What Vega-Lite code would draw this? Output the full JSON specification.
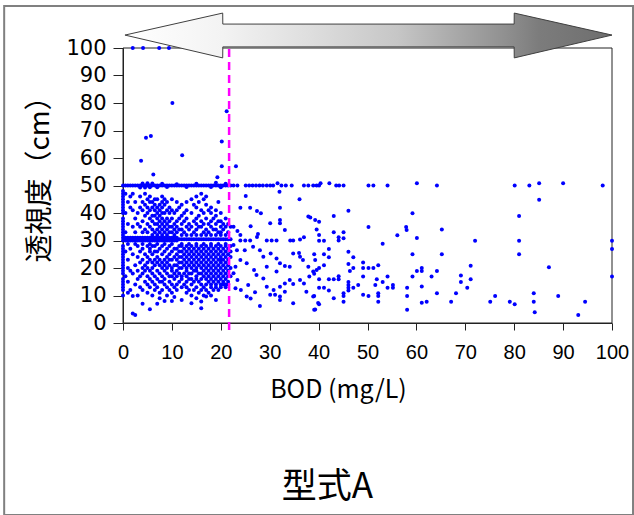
{
"$schema": "https://vega.github.io/schema/vega-lite/v6.json",
"width": 489, "height": 275,
"autosize": {"type": "none"},
"padding": {"left": 123, "top": 48, "right": 22, "bottom": 192},
"background": "white",
"title": {"text": "型式A", "orient": "bottom", "anchor": "middle", "frame": "group", "font": "Noto Sans CJK JP", "fontSize": 35, "fontWeight": "normal", "color": "#000", "baseline": "alphabetic", "offset": -18, "dx": -40},
"config": {
"view": {"stroke": null},
"axisX": {"grid": false, "domainColor": "#222222", "tickColor": "#222222", "tickSize": 7, "labelFont": "'Liberation Sans Narrow', 'Liberation Sans'", "labelFontSize": 20, "labelColor": "#000000", "labelPadding": 12, "labelFlush": false, "labelOverlap": false, "titleFont": "Noto Sans CJK JP", "titleFontSize": 25, "titleFontWeight": "normal", "titleColor": "#000000"},
"axisY": {"grid": false, "domainColor": "#222222", "tickColor": "#222222", "tickSize": 10, "labelFont": "DejaVu Sans", "labelFontSize": 21, "labelColor": "#000000", "labelPadding": 7, "labelFlush": false, "labelOverlap": false, "titleFont": "Noto Sans CJK JP", "titleFontSize": 28, "titleFontWeight": "normal", "titleColor": "#000000"}
},
"datasets": {
"arrow": [
{"pos":0.4,"upper":104.7,"lower":104.7},
{"pos":20.39,"upper":112.7,"lower":96.4},
{"pos":20.41,"upper":108.7,"lower":100.4},
{"pos":79.99,"upper":108.7,"lower":100.4},
{"pos":80.01,"upper":112.7,"lower":96.4},
{"pos":100,"upper":104.7,"lower":104.7}
],
"obs": [
{"bod":2,"clarity":100},{"bod":4.1,"clarity":100},{"bod":7.4,"clarity":100},{"bod":9.4,"clarity":100},{"bod":10.1,"clarity":80},{"bod":21.2,"clarity":77},{"bod":4.7,"clarity":67.4},{"bod":5.7,"clarity":68},{"bod":12.1,"clarity":61},{"bod":3.7,"clarity":59},{"bod":20.2,"clarity":66},{"bod":20.2,"clarity":57},{"bod":23.1,"clarity":57},{"bod":19.3,"clarity":53},{"bod":6.2,"clarity":54},
{"bod":0,"clarity":50},{"bod":0.5,"clarity":50},{"bod":1,"clarity":50},{"bod":1.5,"clarity":50},{"bod":2,"clarity":50},{"bod":2.5,"clarity":50},{"bod":3,"clarity":50},{"bod":3.5,"clarity":50},{"bod":4,"clarity":50},{"bod":4.5,"clarity":50},{"bod":5,"clarity":50},{"bod":5.5,"clarity":50},{"bod":6,"clarity":50},{"bod":6.5,"clarity":50},{"bod":7,"clarity":50},{"bod":7.5,"clarity":50},{"bod":8,"clarity":50},{"bod":8.5,"clarity":50},{"bod":9,"clarity":50},{"bod":9.5,"clarity":50},{"bod":10,"clarity":50},{"bod":10.5,"clarity":50},{"bod":11,"clarity":50},{"bod":11.5,"clarity":50},{"bod":12,"clarity":50},{"bod":12.5,"clarity":50},{"bod":13,"clarity":50},{"bod":13.5,"clarity":50},{"bod":14,"clarity":50},{"bod":14.5,"clarity":50},{"bod":15,"clarity":50},{"bod":15.5,"clarity":50},{"bod":16,"clarity":50},{"bod":16.5,"clarity":50},{"bod":17,"clarity":50},{"bod":17.5,"clarity":50},{"bod":18,"clarity":50},{"bod":18.5,"clarity":50},{"bod":19,"clarity":50},{"bod":19.5,"clarity":50},{"bod":20,"clarity":50},{"bod":20.5,"clarity":50},{"bod":21,"clarity":50},{"bod":21.5,"clarity":50},{"bod":22,"clarity":50},
{"bod":3.5,"clarity":49.3},{"bod":4,"clarity":50.7},{"bod":4.5,"clarity":49.3},{"bod":5,"clarity":50.8},{"bod":5.5,"clarity":49.4},{"bod":6,"clarity":50.7},{"bod":7,"clarity":49.4},{"bod":8,"clarity":50.6},{"bod":9,"clarity":49.5},{"bod":11,"clarity":50.5},{"bod":13,"clarity":49.5},{"bod":15,"clarity":50.6},{"bod":18,"clarity":49.5},{"bod":19,"clarity":51},{"bod":20,"clarity":49.4},{"bod":21,"clarity":50.6},
{"bod":22.6,"clarity":50},{"bod":23.4,"clarity":50},{"bod":25.1,"clarity":50},{"bod":25.8,"clarity":50},{"bod":26.5,"clarity":50},{"bod":27.2,"clarity":50},{"bod":27.9,"clarity":50},{"bod":28.6,"clarity":50},{"bod":29.4,"clarity":50},{"bod":30.1,"clarity":50},{"bod":30.7,"clarity":50},{"bod":31.6,"clarity":50.8},{"bod":32.4,"clarity":50},{"bod":33.3,"clarity":50},{"bod":34.5,"clarity":50},{"bod":37,"clarity":50},{"bod":37.9,"clarity":50},{"bod":38.9,"clarity":50},{"bod":39.6,"clarity":50},
{"bod":0,"clarity":30},{"bod":0,"clarity":31},{"bod":0.5,"clarity":30},{"bod":0.5,"clarity":31},{"bod":1,"clarity":30},{"bod":1,"clarity":31},{"bod":1.5,"clarity":30},{"bod":1.5,"clarity":31},{"bod":2,"clarity":30},{"bod":2,"clarity":31},{"bod":2.5,"clarity":30},{"bod":2.5,"clarity":31},{"bod":3,"clarity":30},{"bod":3,"clarity":31},{"bod":3.5,"clarity":30},{"bod":3.5,"clarity":31},{"bod":4,"clarity":30},{"bod":4,"clarity":31},{"bod":4.5,"clarity":30},{"bod":4.5,"clarity":31},{"bod":5,"clarity":30},{"bod":5,"clarity":31},{"bod":5.5,"clarity":30},{"bod":5.5,"clarity":31},{"bod":6,"clarity":30},{"bod":6,"clarity":31},{"bod":6.5,"clarity":30},{"bod":6.5,"clarity":31},{"bod":7,"clarity":30},{"bod":7,"clarity":31},{"bod":7.5,"clarity":30},{"bod":7.5,"clarity":31},{"bod":8,"clarity":30},{"bod":8,"clarity":31},{"bod":8.5,"clarity":30},{"bod":8.5,"clarity":31},{"bod":9,"clarity":30},{"bod":9,"clarity":31},{"bod":9.5,"clarity":30},{"bod":9.5,"clarity":31},{"bod":10,"clarity":30},{"bod":10,"clarity":31},{"bod":10.5,"clarity":30},{"bod":10.5,"clarity":31},{"bod":11,"clarity":30},{"bod":11,"clarity":31},
{"bod":11.5,"clarity":30.5},{"bod":12,"clarity":30.5},{"bod":12.5,"clarity":30.5},{"bod":13,"clarity":30.5},{"bod":13.5,"clarity":30.5},{"bod":14,"clarity":30.5},{"bod":14.5,"clarity":30.5},{"bod":15,"clarity":30.5},{"bod":15.5,"clarity":30.5},{"bod":16,"clarity":30.5},{"bod":16.5,"clarity":30.5},{"bod":17,"clarity":30.5},{"bod":17.5,"clarity":30.5},{"bod":18,"clarity":30.5},{"bod":18.5,"clarity":30.5},{"bod":19,"clarity":30.5},{"bod":19.5,"clarity":30.5},{"bod":20,"clarity":30.5},{"bod":20.5,"clarity":30.5},{"bod":21,"clarity":30.5},{"bod":21.5,"clarity":30.5},{"bod":22,"clarity":30.5},
{"bod":1,"clarity":28.7},{"bod":2.5,"clarity":28.7},{"bod":4,"clarity":28.7},{"bod":5.5,"clarity":28.7},{"bod":7,"clarity":28.7},{"bod":8.5,"clarity":28.7},{"bod":10,"clarity":28.7},{"bod":12,"clarity":28.7},{"bod":13.5,"clarity":28.7},{"bod":15,"clarity":28.7},{"bod":16.5,"clarity":28.7},{"bod":18,"clarity":28.7},{"bod":19.5,"clarity":28.7},{"bod":21,"clarity":28.7},
{"bod":24,"clarity":30},{"bod":25,"clarity":30},{"bod":26,"clarity":30},{"bod":29.4,"clarity":30},{"bod":30.4,"clarity":30},{"bod":31.4,"clarity":30},{"bod":34.2,"clarity":30},{"bod":34.8,"clarity":30},{"bod":36.2,"clarity":30.4},{"bod":37,"clarity":31.2},
{"bod":0,"clarity":10},{"bod":0,"clarity":12},{"bod":0,"clarity":13},{"bod":0,"clarity":14},{"bod":0,"clarity":15},{"bod":0,"clarity":16},{"bod":0,"clarity":18},{"bod":0,"clarity":19},{"bod":0,"clarity":20},{"bod":0,"clarity":21},{"bod":0,"clarity":22},{"bod":0,"clarity":23},{"bod":0,"clarity":24},{"bod":0,"clarity":25},{"bod":0,"clarity":26},{"bod":0,"clarity":27},{"bod":0,"clarity":28},{"bod":0,"clarity":32},{"bod":0,"clarity":33},{"bod":0,"clarity":34},{"bod":0,"clarity":35},{"bod":0,"clarity":36},{"bod":0,"clarity":37},{"bod":0,"clarity":38},{"bod":0,"clarity":40},{"bod":0,"clarity":41},{"bod":0,"clarity":42},{"bod":0,"clarity":43},{"bod":0,"clarity":44},{"bod":0,"clarity":45},{"bod":0,"clarity":46},{"bod":0,"clarity":47},{"bod":0,"clarity":48},
{"bod":0.5,"clarity":17},{"bod":0.5,"clarity":26},{"bod":0.5,"clarity":33},{"bod":0.5,"clarity":40},{"bod":0.5,"clarity":47},
{"bod":1,"clarity":11},{"bod":1,"clarity":15},{"bod":1,"clarity":20},{"bod":1,"clarity":23},{"bod":1,"clarity":36},{"bod":1,"clarity":44},
{"bod":1.5,"clarity":12},{"bod":1.5,"clarity":19},{"bod":1.5,"clarity":27},{"bod":1.5,"clarity":42},{"bod":1.5,"clarity":46},
{"bod":2,"clarity":3.5},{"bod":2,"clarity":9.8},{"bod":2,"clarity":18},{"bod":2,"clarity":25},{"bod":2,"clarity":35},{"bod":2,"clarity":41},{"bod":2,"clarity":47},
{"bod":2.5,"clarity":2.9},{"bod":2.5,"clarity":14},{"bod":2.5,"clarity":21},{"bod":2.5,"clarity":33},{"bod":2.5,"clarity":38},{"bod":2.5,"clarity":44},
{"bod":3,"clarity":10},{"bod":3,"clarity":16},{"bod":3,"clarity":19},{"bod":3,"clarity":24},{"bod":3,"clarity":28},{"bod":3,"clarity":36},{"bod":3,"clarity":40},
{"bod":3.5,"clarity":13},{"bod":3.5,"clarity":17},{"bod":3.5,"clarity":22},{"bod":3.5,"clarity":26},{"bod":3.5,"clarity":35},{"bod":3.5,"clarity":42},{"bod":3.5,"clarity":46},
{"bod":4,"clarity":7},{"bod":4,"clarity":12},{"bod":4,"clarity":18},{"bod":4,"clarity":20},{"bod":4,"clarity":23},{"bod":4,"clarity":27},{"bod":4,"clarity":33},{"bod":4,"clarity":37},{"bod":4,"clarity":41},{"bod":4,"clarity":44},
{"bod":4.5,"clarity":15},{"bod":4.5,"clarity":19},{"bod":4.5,"clarity":21},{"bod":4.5,"clarity":25},{"bod":4.5,"clarity":34},{"bod":4.5,"clarity":39},{"bod":4.5,"clarity":43},{"bod":4.5,"clarity":47},
{"bod":5,"clarity":11},{"bod":5,"clarity":14},{"bod":5,"clarity":17},{"bod":5,"clarity":20},{"bod":5,"clarity":22},{"bod":5,"clarity":24},{"bod":5,"clarity":28},{"bod":5,"clarity":33},{"bod":5,"clarity":36},{"bod":5,"clarity":40},{"bod":5,"clarity":42},{"bod":5,"clarity":45},
{"bod":5.5,"clarity":5},{"bod":5.5,"clarity":13},{"bod":5.5,"clarity":16},{"bod":5.5,"clarity":19},{"bod":5.5,"clarity":23},{"bod":5.5,"clarity":26},{"bod":5.5,"clarity":27},{"bod":5.5,"clarity":35},{"bod":5.5,"clarity":38},{"bod":5.5,"clarity":41},{"bod":5.5,"clarity":44},{"bod":5.5,"clarity":46},
{"bod":6,"clarity":10},{"bod":6,"clarity":15},{"bod":6,"clarity":18},{"bod":6,"clarity":20},{"bod":6,"clarity":22},{"bod":6,"clarity":25},{"bod":6,"clarity":28},{"bod":6,"clarity":32},{"bod":6,"clarity":34},{"bod":6,"clarity":37},{"bod":6,"clarity":39},{"bod":6,"clarity":42},{"bod":6,"clarity":44},
{"bod":6.5,"clarity":12},{"bod":6.5,"clarity":14},{"bod":6.5,"clarity":17},{"bod":6.5,"clarity":21},{"bod":6.5,"clarity":23},{"bod":6.5,"clarity":26},{"bod":6.5,"clarity":28},{"bod":6.5,"clarity":33},{"bod":6.5,"clarity":36},{"bod":6.5,"clarity":39},{"bod":6.5,"clarity":41},{"bod":6.5,"clarity":43},{"bod":6.5,"clarity":45},
{"bod":7,"clarity":7},{"bod":7,"clarity":13},{"bod":7,"clarity":16},{"bod":7,"clarity":19},{"bod":7,"clarity":22},{"bod":7,"clarity":24},{"bod":7,"clarity":26},{"bod":7,"clarity":32},{"bod":7,"clarity":34},{"bod":7,"clarity":36},{"bod":7,"clarity":38},{"bod":7,"clarity":40},{"bod":7,"clarity":42},{"bod":7,"clarity":45},
{"bod":7.5,"clarity":9},{"bod":7.5,"clarity":11},{"bod":7.5,"clarity":15},{"bod":7.5,"clarity":18},{"bod":7.5,"clarity":21},{"bod":7.5,"clarity":23},{"bod":7.5,"clarity":27},{"bod":7.5,"clarity":33},{"bod":7.5,"clarity":35},{"bod":7.5,"clarity":37},{"bod":7.5,"clarity":39},{"bod":7.5,"clarity":41},{"bod":7.5,"clarity":43},
{"bod":8,"clarity":12},{"bod":8,"clarity":15},{"bod":8,"clarity":17},{"bod":8,"clarity":20},{"bod":8,"clarity":22},{"bod":8,"clarity":25},{"bod":8,"clarity":28},{"bod":8,"clarity":32},{"bod":8,"clarity":34},{"bod":8,"clarity":36},{"bod":8,"clarity":38},{"bod":8,"clarity":40},{"bod":8,"clarity":42},{"bod":8,"clarity":44},{"bod":8,"clarity":46},
{"bod":8.5,"clarity":8},{"bod":8.5,"clarity":14},{"bod":8.5,"clarity":16},{"bod":8.5,"clarity":19},{"bod":8.5,"clarity":21},{"bod":8.5,"clarity":23},{"bod":8.5,"clarity":26},{"bod":8.5,"clarity":33},{"bod":8.5,"clarity":35},{"bod":8.5,"clarity":37},{"bod":8.5,"clarity":40},{"bod":8.5,"clarity":43},{"bod":8.5,"clarity":45},
{"bod":9,"clarity":10},{"bod":9,"clarity":13},{"bod":9,"clarity":18},{"bod":9,"clarity":20},{"bod":9,"clarity":22},{"bod":9,"clarity":24},{"bod":9,"clarity":27},{"bod":9,"clarity":32},{"bod":9,"clarity":34},{"bod":9,"clarity":36},{"bod":9,"clarity":38},{"bod":9,"clarity":41},{"bod":9,"clarity":44},
{"bod":9.5,"clarity":12},{"bod":9.5,"clarity":15},{"bod":9.5,"clarity":17},{"bod":9.5,"clarity":21},{"bod":9.5,"clarity":23},{"bod":9.5,"clarity":25},{"bod":9.5,"clarity":28},{"bod":9.5,"clarity":33},{"bod":9.5,"clarity":35},{"bod":9.5,"clarity":37},{"bod":9.5,"clarity":40},{"bod":9.5,"clarity":42},
{"bod":10,"clarity":8},{"bod":10,"clarity":11},{"bod":10,"clarity":14},{"bod":10,"clarity":17},{"bod":10,"clarity":19},{"bod":10,"clarity":20},{"bod":10,"clarity":23},{"bod":10,"clarity":26},{"bod":10,"clarity":33},{"bod":10,"clarity":35},{"bod":10,"clarity":38},{"bod":10,"clarity":41},{"bod":10,"clarity":45},
{"bod":10.5,"clarity":9.5},{"bod":10.5,"clarity":13},{"bod":10.5,"clarity":16},{"bod":10.5,"clarity":18},{"bod":10.5,"clarity":21},{"bod":10.5,"clarity":24},{"bod":10.5,"clarity":27},{"bod":10.5,"clarity":32},{"bod":10.5,"clarity":34},{"bod":10.5,"clarity":36},{"bod":10.5,"clarity":40},
{"bod":11,"clarity":12},{"bod":11,"clarity":14},{"bod":11,"clarity":17},{"bod":11,"clarity":19},{"bod":11,"clarity":21},{"bod":11,"clarity":23},{"bod":11,"clarity":25},{"bod":11,"clarity":27},{"bod":11,"clarity":33},{"bod":11,"clarity":35},{"bod":11,"clarity":37},{"bod":11,"clarity":41},{"bod":11,"clarity":44},
{"bod":11.5,"clarity":15},{"bod":11.5,"clarity":18},{"bod":11.5,"clarity":20},{"bod":11.5,"clarity":22},{"bod":11.5,"clarity":24},{"bod":11.5,"clarity":26},{"bod":11.5,"clarity":28},{"bod":11.5,"clarity":34},{"bod":11.5,"clarity":38},{"bod":11.5,"clarity":42},
{"bod":12,"clarity":8.4},{"bod":12,"clarity":13},{"bod":12,"clarity":16},{"bod":12,"clarity":17},{"bod":12,"clarity":20},{"bod":12,"clarity":22},{"bod":12,"clarity":24},{"bod":12,"clarity":26},{"bod":12,"clarity":28},{"bod":12,"clarity":32},{"bod":12,"clarity":34},{"bod":12,"clarity":36},{"bod":12,"clarity":39},{"bod":12,"clarity":43},
{"bod":12.5,"clarity":14},{"bod":12.5,"clarity":18},{"bod":12.5,"clarity":21},{"bod":12.5,"clarity":23},{"bod":12.5,"clarity":25},{"bod":12.5,"clarity":27},{"bod":12.5,"clarity":33},{"bod":12.5,"clarity":37},{"bod":12.5,"clarity":40},
{"bod":13,"clarity":11},{"bod":13,"clarity":13},{"bod":13,"clarity":15},{"bod":13,"clarity":17},{"bod":13,"clarity":19},{"bod":13,"clarity":20},{"bod":13,"clarity":22},{"bod":13,"clarity":24},{"bod":13,"clarity":26},{"bod":13,"clarity":28},{"bod":13,"clarity":32},{"bod":13,"clarity":35},{"bod":13,"clarity":38},{"bod":13,"clarity":41},{"bod":13,"clarity":44},
{"bod":13.5,"clarity":12},{"bod":13.5,"clarity":16},{"bod":13.5,"clarity":18},{"bod":13.5,"clarity":21},{"bod":13.5,"clarity":23},{"bod":13.5,"clarity":25},{"bod":13.5,"clarity":27},{"bod":13.5,"clarity":34},{"bod":13.5,"clarity":36},
{"bod":14,"clarity":7.2},{"bod":14,"clarity":10},{"bod":14,"clarity":14},{"bod":14,"clarity":16},{"bod":14,"clarity":18},{"bod":14,"clarity":20},{"bod":14,"clarity":22},{"bod":14,"clarity":24},{"bod":14,"clarity":26},{"bod":14,"clarity":28},{"bod":14,"clarity":32},{"bod":14,"clarity":35},{"bod":14,"clarity":40},{"bod":14,"clarity":45},
{"bod":14.5,"clarity":12},{"bod":14.5,"clarity":15},{"bod":14.5,"clarity":19},{"bod":14.5,"clarity":21},{"bod":14.5,"clarity":23},{"bod":14.5,"clarity":25},{"bod":14.5,"clarity":27},{"bod":14.5,"clarity":33},{"bod":14.5,"clarity":37},{"bod":14.5,"clarity":43},
{"bod":15,"clarity":9},{"bod":15,"clarity":13},{"bod":15,"clarity":16},{"bod":15,"clarity":17},{"bod":15,"clarity":19},{"bod":15,"clarity":20},{"bod":15,"clarity":22},{"bod":15,"clarity":24},{"bod":15,"clarity":26},{"bod":15,"clarity":28},{"bod":15,"clarity":32},{"bod":15,"clarity":34},{"bod":15,"clarity":36},{"bod":15,"clarity":38},{"bod":15,"clarity":42},{"bod":15,"clarity":46},
{"bod":15.5,"clarity":11},{"bod":15.5,"clarity":15},{"bod":15.5,"clarity":18},{"bod":15.5,"clarity":21},{"bod":15.5,"clarity":23},{"bod":15.5,"clarity":25},{"bod":15.5,"clarity":27},{"bod":15.5,"clarity":35},{"bod":15.5,"clarity":39},{"bod":15.5,"clarity":44},
{"bod":16,"clarity":5.4},{"bod":16,"clarity":7.8},{"bod":16,"clarity":12},{"bod":16,"clarity":14},{"bod":16,"clarity":16},{"bod":16,"clarity":18},{"bod":16,"clarity":20},{"bod":16,"clarity":22},{"bod":16,"clarity":24},{"bod":16,"clarity":26},{"bod":16,"clarity":28},{"bod":16,"clarity":32},{"bod":16,"clarity":35},{"bod":16,"clarity":37},{"bod":16,"clarity":41},{"bod":16,"clarity":47},
{"bod":16.5,"clarity":10},{"bod":16.5,"clarity":13},{"bod":16.5,"clarity":17},{"bod":16.5,"clarity":19},{"bod":16.5,"clarity":21},{"bod":16.5,"clarity":23},{"bod":16.5,"clarity":25},{"bod":16.5,"clarity":27},{"bod":16.5,"clarity":33},{"bod":16.5,"clarity":36},{"bod":16.5,"clarity":40},{"bod":16.5,"clarity":45},
{"bod":17,"clarity":9.6},{"bod":17,"clarity":12},{"bod":17,"clarity":14},{"bod":17,"clarity":16},{"bod":17,"clarity":18},{"bod":17,"clarity":20},{"bod":17,"clarity":22},{"bod":17,"clarity":24},{"bod":17,"clarity":26},{"bod":17,"clarity":28},{"bod":17,"clarity":32},{"bod":17,"clarity":34},{"bod":17,"clarity":38},{"bod":17,"clarity":43},{"bod":17,"clarity":46},
{"bod":17.5,"clarity":11},{"bod":17.5,"clarity":15},{"bod":17.5,"clarity":17},{"bod":17.5,"clarity":19},{"bod":17.5,"clarity":21},{"bod":17.5,"clarity":23},{"bod":17.5,"clarity":25},{"bod":17.5,"clarity":27},{"bod":17.5,"clarity":33},{"bod":17.5,"clarity":36},{"bod":17.5,"clarity":41},
{"bod":18,"clarity":10},{"bod":18,"clarity":13},{"bod":18,"clarity":14},{"bod":18,"clarity":16},{"bod":18,"clarity":18},{"bod":18,"clarity":20},{"bod":18,"clarity":22},{"bod":18,"clarity":24},{"bod":18,"clarity":26},{"bod":18,"clarity":28},{"bod":18,"clarity":32},{"bod":18,"clarity":35},{"bod":18,"clarity":37},{"bod":18,"clarity":40},{"bod":18,"clarity":42},
{"bod":18.5,"clarity":12},{"bod":18.5,"clarity":15},{"bod":18.5,"clarity":17},{"bod":18.5,"clarity":19},{"bod":18.5,"clarity":21},{"bod":18.5,"clarity":23},{"bod":18.5,"clarity":25},{"bod":18.5,"clarity":27},{"bod":18.5,"clarity":34},{"bod":18.5,"clarity":38},
{"bod":19,"clarity":8.4},{"bod":19,"clarity":13},{"bod":19,"clarity":14},{"bod":19,"clarity":16},{"bod":19,"clarity":18},{"bod":19,"clarity":20},{"bod":19,"clarity":22},{"bod":19,"clarity":24},{"bod":19,"clarity":26},{"bod":19,"clarity":28},{"bod":19,"clarity":32},{"bod":19,"clarity":34},{"bod":19,"clarity":36},{"bod":19,"clarity":39},{"bod":19,"clarity":41},
{"bod":19.5,"clarity":12},{"bod":19.5,"clarity":15},{"bod":19.5,"clarity":17},{"bod":19.5,"clarity":19},{"bod":19.5,"clarity":21},{"bod":19.5,"clarity":23},{"bod":19.5,"clarity":25},{"bod":19.5,"clarity":27},{"bod":19.5,"clarity":33},{"bod":19.5,"clarity":37},{"bod":19.5,"clarity":44},
{"bod":20,"clarity":13},{"bod":20,"clarity":14},{"bod":20,"clarity":16},{"bod":20,"clarity":18},{"bod":20,"clarity":20},{"bod":20,"clarity":22},{"bod":20,"clarity":23},{"bod":20,"clarity":24},{"bod":20,"clarity":26},{"bod":20,"clarity":28},{"bod":20,"clarity":32},{"bod":20,"clarity":33},{"bod":20,"clarity":35},{"bod":20,"clarity":37},{"bod":20,"clarity":40},
{"bod":20.5,"clarity":14},{"bod":20.5,"clarity":15},{"bod":20.5,"clarity":17},{"bod":20.5,"clarity":19},{"bod":20.5,"clarity":21},{"bod":20.5,"clarity":23},{"bod":20.5,"clarity":25},{"bod":20.5,"clarity":27},{"bod":20.5,"clarity":34},{"bod":20.5,"clarity":36},
{"bod":21,"clarity":13},{"bod":21,"clarity":14},{"bod":21,"clarity":16},{"bod":21,"clarity":18},{"bod":21,"clarity":20},{"bod":21,"clarity":22},{"bod":21,"clarity":24},{"bod":21,"clarity":26},{"bod":21,"clarity":28},{"bod":21,"clarity":32},{"bod":21,"clarity":35},{"bod":21,"clarity":38},
{"bod":21.5,"clarity":14},{"bod":21.5,"clarity":15},{"bod":21.5,"clarity":17},{"bod":21.5,"clarity":19},{"bod":21.5,"clarity":21},{"bod":21.5,"clarity":23},{"bod":21.5,"clarity":25},{"bod":21.5,"clarity":27},{"bod":21.5,"clarity":33},{"bod":21.5,"clarity":36},
{"bod":22,"clarity":17},{"bod":22,"clarity":20},{"bod":22,"clarity":24},{"bod":22,"clarity":26},{"bod":22,"clarity":28},{"bod":22,"clarity":35},
{"bod":32,"clarity":47.7},{"bod":25.1,"clarity":46.2},{"bod":36.1,"clarity":45},{"bod":24,"clarity":41.9},{"bod":26,"clarity":41.9},{"bod":32.1,"clarity":41.9},{"bod":27.4,"clarity":40.7},{"bod":28.2,"clarity":39.9},{"bod":32.1,"clarity":37.5},{"bod":39.3,"clarity":37.5},{"bod":32.1,"clarity":36.3},{"bod":30.1,"clarity":36.3},{"bod":37.9,"clarity":38.7},{"bod":33.1,"clarity":33.8},{"bod":22.6,"clarity":35},{"bod":26.1,"clarity":35.2},{"bod":27.6,"clarity":32.4},{"bod":27.4,"clarity":31.3},
{"bod":23.4,"clarity":33.5},{"bod":24,"clarity":32},{"bod":22.6,"clarity":28.4},{"bod":23.3,"clarity":26.5},{"bod":24,"clarity":22.9},{"bod":23,"clarity":20.5},{"bod":22.6,"clarity":18.1},{"bod":23.4,"clarity":15.6},{"bod":23,"clarity":12.6},{"bod":24.1,"clarity":12},{"bod":24.9,"clarity":26.5},{"bod":25.3,"clarity":21.7},{"bod":25.6,"clarity":13.8},{"bod":25.3,"clarity":9.6},{"bod":26.1,"clarity":8.9},{"bod":26.6,"clarity":27.7},{"bod":26.8,"clarity":19.3},{"bod":27.3,"clarity":17.5},{"bod":27,"clarity":11.2},{"bod":28,"clarity":26.5},{"bod":28,"clarity":6.2},{"bod":28.7,"clarity":24.1},{"bod":28.7,"clarity":16.2},{"bod":29.4,"clarity":13.2},{"bod":29.4,"clarity":20.5},{"bod":30.2,"clarity":25.3},{"bod":30.1,"clarity":10.3},{"bod":30.8,"clarity":12},{"bod":31.1,"clarity":10.3},{"bod":31.4,"clarity":23.5},{"bod":31.4,"clarity":18.7},{"bod":32.1,"clarity":21.7},{"bod":32.1,"clarity":13.2},{"bod":32.1,"clarity":9.6},{"bod":32.1,"clarity":8.4},{"bod":33.1,"clarity":20.7},{"bod":33.1,"clarity":14.4},{"bod":33.1,"clarity":11.4},{"bod":34.1,"clarity":20.5},{"bod":34.1,"clarity":15.6},{"bod":34.8,"clarity":25.3},{"bod":34.8,"clarity":14.2},{"bod":34.8,"clarity":7.2},{"bod":36,"clarity":25.5},{"bod":36.2,"clarity":24.1},{"bod":36.2,"clarity":15.6},{"bod":36.8,"clarity":22.9},{"bod":37,"clarity":14.4},{"bod":37.5,"clarity":11.4},{"bod":37.9,"clarity":20.5},{"bod":38.1,"clarity":16.9},{"bod":38.9,"clarity":18.7},{"bod":38.9,"clarity":9.6},{"bod":39.3,"clarity":22.9},{"bod":39.3,"clarity":4.9},{"bod":39.9,"clarity":7.3},{"bod":39.6,"clarity":19.3},
{"bod":40.1,"clarity":50},{"bod":40.4,"clarity":50.8},{"bod":42.2,"clarity":50.8},{"bod":43.6,"clarity":50},{"bod":44.2,"clarity":50},{"bod":45.1,"clarity":50},{"bod":50.2,"clarity":50},{"bod":51.2,"clarity":50},{"bod":54.1,"clarity":50},{"bod":60.1,"clarity":50.8},{"bod":64.2,"clarity":50},{"bod":80.1,"clarity":50},{"bod":83.1,"clarity":50},{"bod":85.1,"clarity":50.8},{"bod":90,"clarity":50.8},{"bod":98.1,"clarity":50},
{"bod":85.1,"clarity":44.8},{"bod":46.1,"clarity":40.8},{"bod":59.2,"clarity":39.9},{"bod":81,"clarity":38.9},{"bod":43.1,"clarity":38.9},{"bod":38.3,"clarity":38.4},{"bod":40.1,"clarity":36.8},{"bod":50.2,"clarity":34.9},{"bod":57.9,"clarity":34.9},{"bod":58,"clarity":33.8},{"bod":65.2,"clarity":34},{"bod":39.6,"clarity":34},{"bod":43.1,"clarity":33},{"bod":45.1,"clarity":33},{"bod":40.1,"clarity":32},{"bod":56.1,"clarity":31.9},{"bod":44.1,"clarity":31.2},{"bod":45.1,"clarity":30.8},{"bod":44.1,"clarity":30},{"bod":40.1,"clarity":29.9},{"bod":41.1,"clarity":29.9},{"bod":60.1,"clarity":30.9},{"bod":53.1,"clarity":28.8},{"bod":72,"clarity":29.9},{"bod":81,"clarity":29.9},{"bod":100,"clarity":29.9},{"bod":100,"clarity":26.9},{"bod":42.1,"clarity":26.9},{"bod":46.1,"clarity":25.9},{"bod":39.1,"clarity":25},{"bod":41.1,"clarity":25},{"bod":42.1,"clarity":23.9},{"bod":47.1,"clarity":23.9},{"bod":59.2,"clarity":25},{"bod":65.2,"clarity":25},{"bod":81,"clarity":25},{"bod":46.1,"clarity":21.5},{"bod":49.1,"clarity":22},{"bod":49.1,"clarity":20},{"bod":50.2,"clarity":20},{"bod":51.2,"clarity":20},{"bod":52.2,"clarity":21},{"bod":47.1,"clarity":20},{"bod":46.4,"clarity":18.9},{"bod":40.1,"clarity":20},{"bod":41.1,"clarity":21},{"bod":39.1,"clarity":17.9},{"bod":40.1,"clarity":15.9},{"bod":42.1,"clarity":15.9},{"bod":44.1,"clarity":17},{"bod":44.1,"clarity":15.9},{"bod":49.1,"clarity":16.9},{"bod":54.1,"clarity":16.9},{"bod":51.9,"clarity":15.9},{"bod":53.1,"clarity":14.9},{"bod":55.2,"clarity":13.8},{"bod":55.2,"clarity":12.8},{"bod":51.6,"clarity":13.8},{"bod":48.1,"clarity":13.8},{"bod":47.1,"clarity":12.8},{"bod":46.1,"clarity":12.8},{"bod":46.1,"clarity":13.8},{"bod":46.1,"clarity":11.8},{"bod":46.1,"clarity":14.9},{"bod":45.1,"clarity":10.8},{"bod":45.1,"clarity":9.8},{"bod":45.1,"clarity":7.7},{"bod":43.1,"clarity":15.9},{"bod":43.1,"clarity":9},{"bod":42.1,"clarity":11.8},{"bod":41.1,"clarity":12.8},{"bod":40.1,"clarity":12.8},{"bod":39.1,"clarity":9.8},{"bod":40.1,"clarity":6.8},{"bod":39.1,"clarity":4.8},{"bod":49.1,"clarity":10.3},{"bod":50.2,"clarity":9.8},{"bod":52.2,"clarity":10.8},{"bod":52.2,"clarity":9.8},{"bod":52.2,"clarity":7.7},{"bod":54.1,"clarity":12.8},{"bod":58.1,"clarity":12.8},{"bod":58.1,"clarity":9.8},{"bod":58.1,"clarity":4.8},{"bod":59.2,"clarity":16.9},{"bod":60.1,"clarity":18.9},{"bod":61.1,"clarity":20},{"bod":61.1,"clarity":18.9},{"bod":61.1,"clarity":13.3},{"bod":61.1,"clarity":7.4},{"bod":62.1,"clarity":7.7},{"bod":63.1,"clarity":16.9},{"bod":64.2,"clarity":18.9},{"bod":64.2,"clarity":10.8},{"bod":67.1,"clarity":7.7},{"bod":68.1,"clarity":10.8},{"bod":69.1,"clarity":17.3},{"bod":69.1,"clarity":14.9},{"bod":70.4,"clarity":12.8},{"bod":71.1,"clarity":15.9},{"bod":71.1,"clarity":20.8},{"bod":75.1,"clarity":7.7},{"bod":76.1,"clarity":9.8},{"bod":79.1,"clarity":7.7},{"bod":80.1,"clarity":6.8},{"bod":84,"clarity":10.8},{"bod":84,"clarity":7.7},{"bod":84.2,"clarity":3.9},{"bod":87.1,"clarity":20.3},{"bod":89,"clarity":9.8},{"bod":93.1,"clarity":2.9},{"bod":94.5,"clarity":7.7},{"bod":100,"clarity":16.9}
]
},
"layer": [
{
"data": {"values": [{}]},
"mark": {"type": "rect", "fill": "transparent", "stroke": "#808080", "strokeWidth": 2},
"encoding": {
"x": {"datum": -24.3, "type": "quantitative", "title": "BOD (mg/L)", "axis": {"values": [0,10,20,30,40,50,60,70,80,90,100], "titleX": 215, "titleY": 74, "titleBaseline": "alphabetic", "titleAlign": "center"}},
"x2": {"datum": 104.3},
"y": {"datum": -69.8, "type": "quantitative", "title": "透視度（cm）", "axis": {"values": [0,10,20,30,40,50,60,70,80,90,100], "titleAngle": 270, "titleX": -69, "titleY": 124, "titleBaseline": "bottom", "titleAlign": "center"}},
"y2": {"datum": 115.3}
}
},
{
"data": {"values": [{}]},
"mark": {"type": "rect", "fill": "transparent", "stroke": "#222222", "strokeWidth": 1},
"encoding": {
"x": {"datum": 0, "type": "quantitative", "title": "BOD (mg/L)", "axis": {"values": [0,10,20,30,40,50,60,70,80,90,100], "titleX": 215, "titleY": 74, "titleBaseline": "alphabetic", "titleAlign": "center"}},
"x2": {"datum": 100},
"y": {"datum": 0, "type": "quantitative", "title": "透視度（cm）", "axis": {"values": [0,10,20,30,40,50,60,70,80,90,100], "titleAngle": 270, "titleX": -69, "titleY": 124, "titleBaseline": "bottom", "titleAlign": "center"}},
"y2": {"datum": 100}
}
},
{
"data": {"name": "obs"},
"mark": {"type": "circle", "size": 16, "color": "#0000ff", "opacity": 1},
"encoding": {
"x": {"field": "bod", "type": "quantitative", "title": "BOD (mg/L)", "scale": {"domain": [0, 100], "nice": false, "zero": false},
"axis": {"values": [0,10,20,30,40,50,60,70,80,90,100], "titleX": 215, "titleY": 74, "titleBaseline": "alphabetic", "titleAlign": "center"}},
"y": {"field": "clarity", "type": "quantitative", "title": "透視度（cm）", "scale": {"domain": [0, 100], "nice": false, "zero": false},
"axis": {"values": [0,10,20,30,40,50,60,70,80,90,100], "titleAngle": 270, "titleX": -69, "titleY": 124, "titleBaseline": "bottom", "titleAlign": "center"}}
}
},
{
"data": {"values": [{}]},
"mark": {"type": "rule", "color": "#ff00ff", "strokeWidth": 2.5, "strokeDash": [8, 5]},
"encoding": {
"x": {"datum": 21.7, "type": "quantitative", "title": "BOD (mg/L)", "axis": {"values": [0,10,20,30,40,50,60,70,80,90,100], "titleX": 215, "titleY": 74, "titleBaseline": "alphabetic", "titleAlign": "center"}},
"y": {"datum": -2.5, "type": "quantitative", "title": "透視度（cm）", "axis": {"values": [0,10,20,30,40,50,60,70,80,90,100], "titleAngle": 270, "titleX": -69, "titleY": 124, "titleBaseline": "bottom", "titleAlign": "center"}},
"y2": {"datum": 100}
}
},
{
"data": {"name": "arrow"},
"mark": {"type": "area", "orient": "vertical", "stroke": "#404040", "strokeWidth": 1, "fill": {"gradient": "linear", "x1": 0, "y1": 0, "x2": 1, "y2": 0, "stops": [{"offset": 0, "color": "#ffffff"}, {"offset": 0.2, "color": "#f3f3f3"}, {"offset": 0.38, "color": "#dedede"}, {"offset": 0.56, "color": "#c6c6c6"}, {"offset": 0.78, "color": "#909090"}, {"offset": 0.85, "color": "#7c7c7c"}, {"offset": 1, "color": "#6e6e6e"}]}},
"encoding": {
"x": {"field": "pos", "type": "quantitative", "title": "BOD (mg/L)", "axis": {"values": [0,10,20,30,40,50,60,70,80,90,100], "titleX": 215, "titleY": 74, "titleBaseline": "alphabetic", "titleAlign": "center"}},
"y": {"field": "upper", "type": "quantitative", "title": "透視度（cm）", "axis": {"values": [0,10,20,30,40,50,60,70,80,90,100], "titleAngle": 270, "titleX": -69, "titleY": 124, "titleBaseline": "bottom", "titleAlign": "center"}},
"y2": {"field": "lower"}
}
}
]
}
